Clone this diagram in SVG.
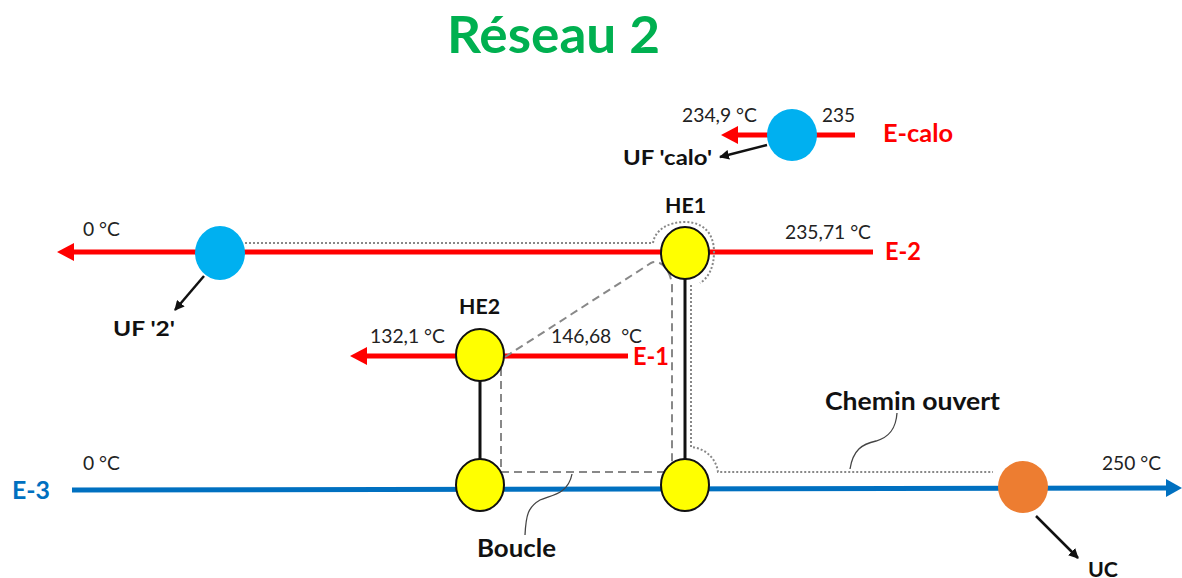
<svg xmlns="http://www.w3.org/2000/svg" width="1182" height="578" viewBox="0 0 1182 578">
<style>
text{font-family:Lato,"Open Sans","Liberation Sans",sans-serif;}
.t{font-size:19px;fill:#222;}
.b{font-size:21px;font-weight:bold;fill:#111;}
.bb{font-size:24px;font-weight:bold;fill:#111;}
.lr{font-size:25px;font-weight:bold;fill:#FF0000;}
.lb{font-size:25px;font-weight:bold;fill:#0070C0;}
.red{stroke:#FF0000;stroke-width:5;fill:none;}
.blue{stroke:#0070C0;stroke-width:5;fill:none;}
.he{fill:#FFFF00;stroke:#111;stroke-width:2;}
.uf{fill:#00B0F0;}
.blk{stroke:#111;stroke-width:3;fill:none;}
.dot{stroke:#888;stroke-width:2;stroke-dasharray:2 2;fill:none;}
.dash{stroke:#888;stroke-width:2;stroke-dasharray:8 5;fill:none;}
.call{stroke:#444;stroke-width:1.3;fill:none;}
.arr{stroke:#111;stroke-width:2.5;fill:none;}
</style>
<defs>
<marker id="ah" viewBox="0 0 10 10" refX="9" refY="5" markerWidth="4" markerHeight="4" orient="auto"><path d="M0,0L10,5L0,10z" fill="#111"/></marker>
</defs>
<text x="447" y="53" textLength="213" lengthAdjust="spacingAndGlyphs" style="font-size:52px;font-weight:bold;fill:#00B050;">Réseau 2</text>
<g id="connectors">
<path class="red" d="M855,135H735"/><path d="M721,135L738,126V144z" fill="#FF0000"/>
<path class="red" d="M873,252H72"/><path d="M57,252L74,243V261z" fill="#FF0000"/>
<path class="red" d="M628,356H364"/><path d="M350,356L367,347V365z" fill="#FF0000"/>
<path class="blue" d="M72,490L1168,488"/><path d="M1182,488L1166,479V497z" fill="#0070C0"/>
<path class="blk" d="M685,278V462"/>
<path class="blk" d="M480,380V462"/>
<path class="arr" d="M767,145L720,157" marker-end="url(#ah)"/>
<path class="arr" d="M204,276L175,310" marker-end="url(#ah)"/>
<path class="arr" d="M1036,516L1078,558" marker-end="url(#ah)"/>
<path class="dot" d="M245,243H653C655,230 668,222 685,222C702,222 714,232 714,252C714,268 708,278 700,283"/>
<path class="dot" d="M691,285V447C705,448 716,458 718,472H993"/>
<path class="dash" d="M505,357L651,263C660,259 670,268 672,285V470"/>
<path class="dash" d="M665,472H501V368"/>
<path class="call" d="M572,474C568,495 550,495 540,500C528,507 526,515 525,535"/>
<path class="call" d="M850,469C853,450 862,444 876,441C890,437 896,428 897,413"/>
</g>
<g id="ecalo"><ellipse class="uf" cx="792" cy="135" rx="25" ry="26"/></g>
<g id="uf2"><ellipse class="uf" cx="220" cy="253" rx="25" ry="27"/></g>
<g id="he1"><ellipse class="he" cx="685" cy="253" rx="24" ry="26"/></g>
<g id="he1b"><ellipse class="he" cx="685" cy="485" rx="24" ry="26"/></g>
<g id="he2"><ellipse class="he" cx="480" cy="355" rx="24" ry="26"/></g>
<g id="he2b"><ellipse class="he" cx="480" cy="485" rx="24" ry="26"/></g>
<g id="uc"><ellipse cx="1023" cy="487" rx="25" ry="26" fill="#ED7D31"/></g>
<g id="labels">
<text class="t" x="682" y="122" textLength="75" lengthAdjust="spacingAndGlyphs">234,9 °C</text>
<text class="t" x="822" y="122" textLength="33" lengthAdjust="spacingAndGlyphs">235</text>
<text class="lr" x="883" y="142" textLength="70" lengthAdjust="spacingAndGlyphs">E-calo</text>
<text class="b" x="623" y="165" textLength="89" lengthAdjust="spacingAndGlyphs">UF 'calo'</text>
<text class="b" x="665" y="213" textLength="41" lengthAdjust="spacingAndGlyphs">HE1</text>
<text class="t" x="83" y="236" textLength="37" lengthAdjust="spacingAndGlyphs">0 °C</text>
<text class="t" x="785" y="239" textLength="86" lengthAdjust="spacingAndGlyphs">235,71 °C</text>
<text class="lr" x="885" y="260" textLength="36" lengthAdjust="spacingAndGlyphs">E-2</text>
<text class="b" x="113" y="336" textLength="62" lengthAdjust="spacingAndGlyphs">UF '2'</text>
<text class="b" x="459" y="314" textLength="41" lengthAdjust="spacingAndGlyphs">HE2</text>
<text class="t" x="370" y="343" textLength="75" lengthAdjust="spacingAndGlyphs">132,1 °C</text>
<text class="t" x="551" y="343" textLength="91" lengthAdjust="spacingAndGlyphs" xml:space="preserve">146,68  °C</text>
<text class="lr" x="633" y="365" textLength="36" lengthAdjust="spacingAndGlyphs">E-1</text>
<text class="bb" x="825" y="410" textLength="175" lengthAdjust="spacingAndGlyphs">Chemin ouvert</text>
<text class="t" x="83" y="470" textLength="37" lengthAdjust="spacingAndGlyphs">0 °C</text>
<text class="t" x="1102" y="470" textLength="59" lengthAdjust="spacingAndGlyphs">250 °C</text>
<text class="lb" x="12" y="499" textLength="38" lengthAdjust="spacingAndGlyphs">E-3</text>
<text class="bb" x="477" y="557" textLength="79" lengthAdjust="spacingAndGlyphs">Boucle</text>
<text class="b" x="1088" y="577" textLength="30" lengthAdjust="spacingAndGlyphs">UC</text>
</g>
</svg>
